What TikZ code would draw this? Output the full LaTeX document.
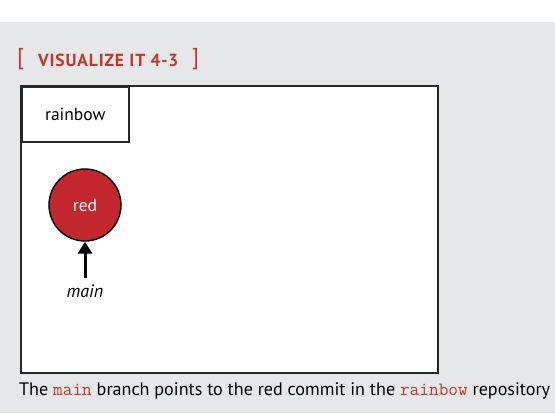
\documentclass[tikz,border=0pt]{standalone}
\usepackage{fontspec}
\setmainfont{PT Sans}
\usetikzlibrary{arrows.meta}
\definecolor{bg}{HTML}{E6E7E8}
\definecolor{oreilly}{HTML}{C0392B}
\definecolor{commitred}{HTML}{C1272D}
\newcommand{\codeword}[1]{{\fontsize{18.8}{20}\selectfont\ttfamily\textcolor{oreilly}{#1}}}
\tikzset{
  frame/.style={draw=black!85, line width=1.6pt, fill=white},
  commit/.style={circle, draw=black, line width=1.4pt, fill=commitred, minimum size=72pt, inner sep=0pt, text=white, font=\fontsize{17.5}{20}\selectfont},
  pointer/.style={-{Triangle[length=12pt,width=14pt]}, line width=3pt},
  captiontext/.style={font=\fontsize{18.1}{20}\selectfont, anchor=west, inner sep=0pt},
  bracket/.style={anchor=west, inner sep=0pt, text=oreilly, font=\fontsize{23}{25}\selectfont}
}
\begin{document}
\begin{tikzpicture}[x=1pt,y=-1pt]
\useasboundingbox (0,0) rectangle (555,413);
\fill[bg] (0,22) rectangle (555,413);
\node[bracket] (lb) at (17,59) {[};
\node[anchor=west, inner sep=0pt, text=oreilly, font=\fontsize{17.5}{20}\selectfont\bfseries\addfontfeatures{LetterSpace=5}] (title) at (38,60) {VISUALIZE IT 4-3};
\node[bracket] (rb) at (192,59) {]};
\draw[frame] (21,86) rectangle (438,373);
\node[frame, minimum width=107pt, minimum height=55pt, anchor=north west, inner sep=0pt, font=\fontsize{17.5}{20}\selectfont] (repo) at (21,86) {rainbow};
\node[commit] (red) at (85,205) {red};
\node[inner sep=0pt, font=\fontsize{18}{20}\selectfont\itshape] (main) at (85,291) {main};
\coordinate (tail) at (85,278);
\draw[pointer] (tail) -- (red.south);
\node[captiontext] (caption) at (19,391) {The \codeword{main} branch points to the red commit in the \codeword{rainbow} repository};
\end{tikzpicture}
\end{document}
